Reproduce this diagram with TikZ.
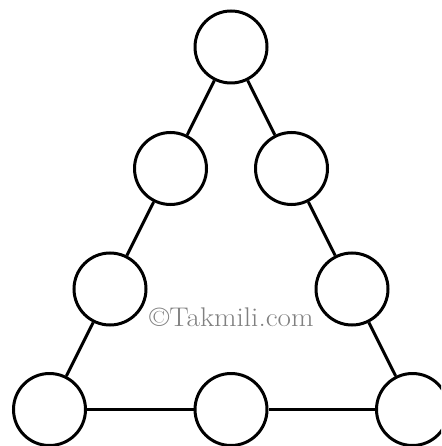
\documentclass[tikz,border=0pt]{standalone}
\usepackage{fontspec}
\begin{document}
\begin{tikzpicture}[x=1pt,y=-1pt,
  ball/.style={circle,draw=black,line width=3pt,minimum size=72pt,inner sep=0pt,fill=white},
  link/.style={draw=black,line width=3pt}]
\useasboundingbox (0,0) rectangle (441,446);
\begin{scope}
\clip (0,0) rectangle (441,446);
\node[ball] (t) at (231,47) {};
\node[ball] (l2) at (170.5,168.5) {};
\node[ball] (r2) at (291.5,168.5) {};
\node[ball] (l3) at (110,289) {};
\node[ball] (r3) at (352,289) {};
\node[ball] (bl) at (49.5,409.5) {};
\node[ball] (bm) at (231,409.5) {};
\node[ball] (br) at (412.5,409.5) {};
\draw[link] (t) -- (l2);
\draw[link] (l2) -- (l3);
\draw[link] (l3) -- (bl);
\draw[link] (t) -- (r2);
\draw[link] (r2) -- (r3);
\draw[link] (r3) -- (br);
\draw[link] (bl) -- (bm);
\draw[link] (bm) -- (br);
\end{scope}
\node[text=black!50,font=\fontsize{27}{32}\selectfont\addfontfeature{FakeBold=0.8},inner sep=0pt,anchor=base,xscale=1.08] (wm) at (231.5,326.7) {\textcopyright Takmili.com};
\end{tikzpicture}
\end{document}
